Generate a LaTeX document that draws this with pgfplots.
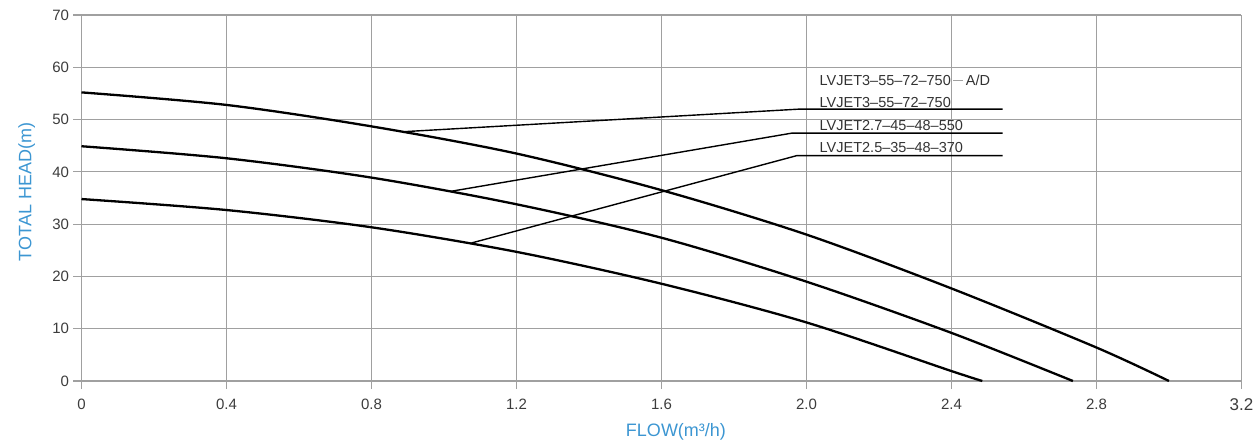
\documentclass[border=0pt]{standalone}
\usepackage{pgfplots}
\pgfplotsset{compat=1.18}
\usepackage{fontspec}
\setmainfont{Liberation Sans}
\definecolor{gridgray}{RGB}{160,160,160}
\definecolor{tickgray}{RGB}{60,60,60}
\definecolor{labelblue}{RGB}{60,150,210}
\definecolor{txtgray}{RGB}{50,50,50}
\begin{document}
\begin{tikzpicture}
\useasboundingbox (-81.5pt,-63pt) rectangle (1176.5pt,381pt);
\begin{axis}[
  at={(0,0)}, anchor=origin,
  scale only axis, width=1160pt, height=366pt,
  xmin=0, xmax=3.2, ymin=0, ymax=70,
  xtick={0,0.4,0.8,1.2,1.6,2.0,2.4,2.8,3.2},
  xticklabels={0,0.4,0.8,1.2,1.6,2.0,2.4,2.8,{\fontsize{17}{18}\selectfont 3.2}},
  ytick={0,10,20,30,40,50,60,70},
  yticklabels={0,10,20,30,40,50,60,70},
  axis lines=left,
  axis line style={-, gridgray, line width=1.1pt},
  grid=major,
  major grid style={gridgray, line width=1.1pt},
  tick align=outside,
  major tick length=8pt,
  tick style={gridgray, line width=1.1pt},
  ticklabel style={font=\fontsize{15}{18}\selectfont, text=tickgray},
  xticklabel style={anchor=north, yshift=-6pt},
  yticklabel style={anchor=east, xshift=-1pt},
  xlabel={FLOW(m³/h)},
  ylabel={TOTAL HEAD(m)},
  xlabel style={font=\fontsize{18}{20}\selectfont, text=labelblue, at={(rel axis cs:0.5125,0)}, anchor=base, yshift=-55.7pt},
  ylabel style={font=\fontsize{18}{20}\selectfont, text=labelblue, at={(axis description cs:-0.0472,0.516)}, anchor=center},
  clip=false,
]
% pump curves
\addplot[black, line width=2.3pt, smooth] coordinates {
(0,55.2)(0.4,52.8)(0.8,48.7)(1.2,43.5)(1.6,36.5)(2.0,28.0)(2.4,17.7)(2.8,6.4)(3.0,0)};
\addplot[black, line width=2.3pt, smooth] coordinates {
(0,44.9)(0.4,42.6)(0.8,38.9)(1.2,33.8)(1.6,27.4)(2.0,19.0)(2.4,9.2)(2.735,0)};
\addplot[black, line width=2.3pt, smooth] coordinates {
(0,34.8)(0.4,32.7)(0.8,29.4)(1.2,24.7)(1.6,18.6)(2.0,11.2)(2.4,1.9)(2.485,0)};
% leader lines
\addplot[black, line width=1.4pt] coordinates {(0.893,47.7)(1.98,52.0)(2.541,52.0)};
\addplot[black, line width=1.4pt] coordinates {(1.021,36.3)(1.959,47.4)(2.541,47.4)};
\addplot[black, line width=1.4pt] coordinates {(1.076,26.4)(1.973,43.1)(2.541,43.1)};
% labels
\begin{scope}[every node/.style={font=\fontsize{14.5}{16}\selectfont, text=txtgray, inner sep=0pt, anchor=base west}]
\node at (axis cs:2.036,56.55) {LVJET3–55–72–750\,\textcolor{gridgray}{\rule[0.33em]{0.7em}{0.5pt}}\,A/D};
\node at (axis cs:2.036,52.0) [yshift=2pt] {LVJET3–55–72–750};
\node at (axis cs:2.036,47.4) [yshift=3pt] {LVJET2.7–45–48–550};
\node at (axis cs:2.036,43.1) [yshift=3pt] {LVJET2.5–35–48–370};
\end{scope}
\end{axis}
\end{tikzpicture}
\end{document}
